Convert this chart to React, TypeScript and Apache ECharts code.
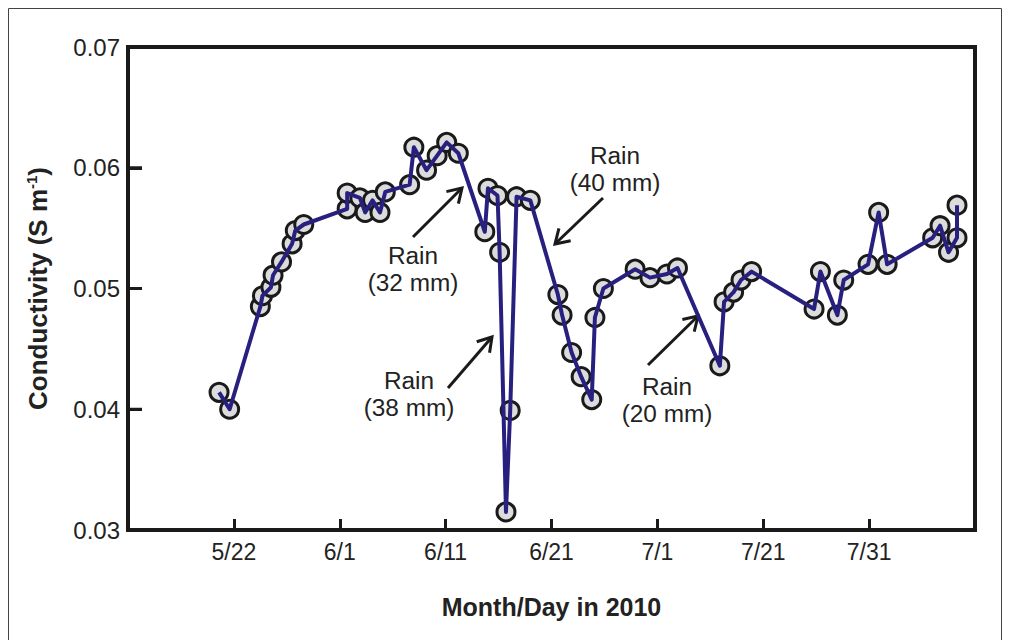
import React, { useEffect, useRef } from "react";
import * as echarts from "echarts";

// Days counted from 5/12 (axis ticks every 10 days, labelled as in the original)
const days = [
  8.6, 9.6, 12.5, 12.7, 13.5, 13.7, 14.5, 15.5, 15.8, 16.6,
  20.7, 20.7, 21.9, 22.4, 23.1, 23.8, 24.3, 26.6, 27.0, 28.2,
  29.2, 30.1, 31.2, 33.7, 34.0, 34.9, 35.1, 35.7, 36.1, 36.7,
  38.0, 40.6, 41.0, 41.9, 42.8, 43.8, 44.1, 44.9, 47.9, 49.3,
  50.9, 51.9, 55.9, 56.3, 57.2, 57.9, 58.9, 64.8, 65.4, 67.0,
  67.6, 69.9, 70.9, 71.7, 76.0, 76.7, 77.5, 78.3, 78.3,
];
const conductivity = [
  0.0414, 0.0400, 0.0485, 0.0494, 0.0501, 0.0511, 0.0522, 0.0537, 0.0548, 0.0553,
  0.0566, 0.0579, 0.0575, 0.0563, 0.0573, 0.0563, 0.0580, 0.0586, 0.0617, 0.0598,
  0.0610, 0.0621, 0.0612, 0.0547, 0.0583, 0.0577, 0.0530, 0.0315, 0.0399, 0.0576,
  0.0573, 0.0495, 0.0478, 0.0447, 0.0427, 0.0408, 0.0476, 0.0500, 0.0516, 0.0509,
  0.0512, 0.0517, 0.0436, 0.0489, 0.0497, 0.0507, 0.0514, 0.0483, 0.0514, 0.0478,
  0.0507, 0.0520, 0.0563, 0.0520, 0.0542, 0.0552, 0.0530, 0.0542, 0.0569,
];
const xTickLabels = ["5/22", "6/1", "6/11", "6/21", "7/1", "7/21", "7/31"];
const yInnerTicks = [0.04, 0.05, 0.06];
const rainLabels = ["Rain\n(32 mm)", "Rain\n(38 mm)", "Rain\n(40 mm)", "Rain\n(20 mm)"];

const FONT = '"Liberation Sans", Arial, Helvetica, sans-serif';
const X_MIN = 0;

// annotation layout (pixels in chart space)
const annLayout = [
  { tx: 405, ty: 262, x1: 405, y1: 229, x2: 454, y2: 180 },
  { tx: 401, ty: 387, x1: 440, y1: 380, x2: 484, y2: 329 },
  { tx: 607, ty: 162, x1: 595, y1: 190, x2: 547, y2: 236 },
  { tx: 659, ty: 393, x1: 640, y1: 357, x2: 690, y2: 308 },
];

function baseGraphics() {
  const out: any[] = [
    {
      id: "frame",
      type: "rect",
      shape: { x: 0.5, y: 0.5, width: 993, height: 700 },
      style: { fill: "none", stroke: "#444", lineWidth: 1 },
      silent: true,
    },
  ];
  annLayout.forEach((a, i) => {
    out.push({
      id: "annText" + i,
      type: "text",
      x: a.tx,
      y: a.ty,
      scaleX: 1.06,
      style: {
        text: rainLabels[i],
        font: `23px ${FONT}`,
        fill: "#222",
        align: "center",
        verticalAlign: "middle",
        textAlign: "center",
        textVerticalAlign: "middle",
        lineHeight: 27,
      },
    });
    out.push({
      id: "annLine" + i,
      type: "line",
      shape: { x1: a.x1, y1: a.y1, x2: a.x2, y2: a.y2 },
      style: { stroke: "#1a1a1a", lineWidth: 3 },
    });
    const dx = a.x2 - a.x1;
    const dy = a.y2 - a.y1;
    const len = Math.hypot(dx, dy);
    const ux = dx / len;
    const uy = dy / len;
    const L = 16;
    const ang = (32 * Math.PI) / 180;
    const c = Math.cos(ang);
    const s = Math.sin(ang);
    const b1 = [a.x2 - L * (ux * c - uy * s), a.y2 - L * (uy * c + ux * s)];
    const b2 = [a.x2 - L * (ux * c + uy * s), a.y2 - L * (uy * c - ux * s)];
    out.push({
      id: "annHead" + i,
      type: "polyline",
      shape: { points: [b1, [a.x2, a.y2], b2] },
      style: { stroke: "#1a1a1a", lineWidth: 3, fill: "none", lineJoin: "miter" },
    });
  });
  return out;
}

export default function App() {
  const ref = useRef<HTMLDivElement>(null);
  useEffect(() => {
    if (!ref.current) return;
    const chart = echarts.init(ref.current, null, { renderer: "svg" });
    const pts = days.map((d, i) => [d, conductivity[i]]);
    chart.setOption({
      animation: false,
      backgroundColor: "#ffffff",
      grid: {
        left: 120,
        top: 39,
        right: 35,
        bottom: 110,
        show: true,
        borderColor: "#1a1a1a",
        borderWidth: 4,
        backgroundColor: "transparent",
      },
      xAxis: {
        type: "value",
        min: X_MIN,
        max: 80,
        interval: 10,
        axisLine: { show: false },
        splitLine: { show: false },
        axisTick: { show: true, inside: true, length: 11, lineStyle: { color: "#1a1a1a", width: 3 } },
        axisLabel: {
          margin: 10,
          fontSize: 23,
          color: "#222",
          fontFamily: FONT,
          formatter: (v: number) => {
            const idx = Math.round(v / 10) - 1;
            return idx >= 0 && idx < xTickLabels.length ? xTickLabels[idx] : "";
          },
        },
        name: "Month/Day in 2010",
        nameLocation: "middle",
        nameGap: 64,
        nameTextStyle: { fontSize: 25, fontWeight: "bold", color: "#222", fontFamily: FONT },
      },
      yAxis: {
        type: "value",
        min: 0.03,
        max: 0.07,
        interval: 0.01,
        axisLine: { show: false },
        splitLine: { show: false },
        axisTick: { show: true, inside: true, length: 14, lineStyle: { color: "#1a1a1a", width: 3 } },
        axisLabel: {
          margin: 8,
          fontSize: 24,
          color: "#222",
          fontFamily: FONT,
          formatter: (v: number) => v.toFixed(2),
        },
        name: "{t|Conductivity (S m}{s|-1}{t|)}",
        nameLocation: "middle",
        nameGap: 77,
        nameRotate: 90,
        nameTextStyle: {
          rich: {
            t: { fontSize: 26, fontWeight: "bold", color: "#222", fontFamily: FONT },
            s: { fontSize: 15, fontWeight: "bold", color: "#222", fontFamily: FONT, verticalAlign: "top", padding: [0, 0, 12, 0] },
          },
        },
      },
      series: [
        {
          type: "scatter",
          data: pts,
          symbol: "circle",
          symbolSize: 18,
          itemStyle: { color: "#dcdcdc", borderColor: "#1a1a1a", borderWidth: 3, opacity: 1 },
          z: 2,
        },
        {
          type: "line",
          data: pts,
          showSymbol: false,
          symbol: "none",
          lineStyle: { color: "#28207f", width: 4, join: "round" },
          z: 3,
        },
      ],
      graphic: baseGraphics(),
    });

    // inner ticks on the left border, positioned through the y scale
    const tickEls: any[] = [];
    yInnerTicks.forEach((v, i) => {
      const p = chart.convertToPixel({ gridIndex: 0 }, [X_MIN, v]) as number[];
      if (p && isFinite(p[0]) && isFinite(p[1])) {
        tickEls.push({
          id: "ytick" + i,
          type: "line",
          z: 100,
          silent: true,
          shape: { x1: p[0], y1: p[1], x2: p[0] + 14, y2: p[1] },
          style: { stroke: "#1a1a1a", lineWidth: 3 },
        });
      }
    });
    chart.setOption({ graphic: [...baseGraphics(), ...tickEls] });

    return () => chart.dispose();
  }, []);
  return <div ref={ref} style={{ width: 1002, height: 632 }} />;
}
